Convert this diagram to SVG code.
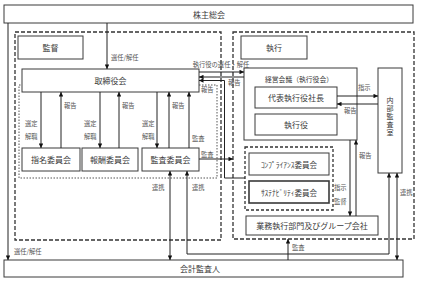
<svg xmlns="http://www.w3.org/2000/svg" width="421" height="281" viewBox="0 0 421 281">
<style>
.box{fill:#fff;stroke:#3a3a3a;stroke-width:1}
.area{fill:none;stroke:#333;stroke-width:1.3;stroke-dasharray:4 2}
.dotted{fill:none;stroke:#555;stroke-width:1;stroke-dasharray:1.5 1.5}
.grp{fill:none;stroke:#333;stroke-width:1.3;stroke-dasharray:3 2}
.t{font-family:"Noto Sans CJK JP","Noto Sans",sans-serif;font-size:8px;fill:#3a3a3a;text-anchor:middle;dominant-baseline:central}
.v{font-family:"Noto Sans CJK JP","Noto Sans",sans-serif;font-size:7px;fill:#3a3a3a;text-anchor:middle;writing-mode:vertical-rl;letter-spacing:1px}
.l{font-family:"Noto Sans CJK JP","Noto Sans",sans-serif;font-size:6.3px;fill:#555;dominant-baseline:central}
.m{text-anchor:middle}
.c{fill:none;stroke:#222;stroke-width:1}
</style>
<defs>
<marker id="ah" viewBox="0 0 6 6" refX="6" refY="3" markerWidth="5" markerHeight="4.5" markerUnits="userSpaceOnUse" orient="auto-start-reverse">
<path d="M0,0 L6,3 L0,6 z" fill="#111"/>
</marker>
</defs>

<g id="supervision-area"><rect class="area" x="15" y="32" width="206" height="208"/></g>
<g id="execution-area"><rect class="area" x="233" y="32" width="181" height="207"/></g>
<g id="committee-area"><rect class="dotted" x="19" y="85" width="198" height="93"/></g>

<g id="shareholders"><rect class="box" x="4" y="5" width="409" height="18"/><text class="t" x="209" y="14">株主総会</text></g>
<g id="kantoku"><rect class="box" x="18" y="36" width="65" height="23"/><text class="t" x="50.5" y="47.5">監督</text></g>
<g id="shikkou"><rect class="box" x="241" y="36" width="66" height="23"/><text class="t" x="274" y="47.5">執行</text></g>
<g id="board"><rect class="box" x="22" y="69" width="177" height="23"/><text class="t" x="110.5" y="80.5">取締役会</text></g>
<g id="nominating"><rect class="box" x="22" y="148" width="58" height="23"/><text class="t" x="51" y="159.5">指名委員会</text></g>
<g id="compensation"><rect class="box" x="82" y="148" width="56" height="23"/><text class="t" x="110" y="159.5">報酬委員会</text></g>
<g id="audit-committee"><rect class="box" x="142" y="148" width="57" height="23"/><text class="t" x="170.5" y="159.5">監査委員会</text></g>
<g id="management-meeting"><rect class="box" x="244" y="68" width="113" height="72"/><text class="t" x="299" y="79" style="font-size:6.8px">経営会議（執行役会）</text></g>
<g id="ceo"><rect class="box" x="255" y="87" width="82" height="21"/><text class="t" x="296" y="97.5">代表執行役社長</text></g>
<g id="officers"><rect class="box" x="255" y="114" width="82" height="21"/><text class="t" x="296" y="124.5">執行役</text></g>
<g id="internal-audit"><rect class="box" x="378" y="68" width="24" height="105"/><text class="v" x="390" y="117">内部監査室</text></g>
<g id="committees-group"><rect class="grp" x="245" y="147" width="88" height="63"/></g>
<g id="compliance"><rect class="box" x="249" y="153" width="80" height="22"/><text class="t" x="289" y="164" style="font-size:7.5px">ｺﾝﾌﾟﾗｲｱﾝｽ委員会</text></g>
<g id="sustainability"><rect class="box" x="249" y="181" width="80" height="22" style="stroke-width:1.6"/><text class="t" x="289" y="192" style="font-size:7.5px">ｻｽﾃﾅﾋﾞﾘﾃｨ委員会</text></g>
<g id="business"><rect class="box" x="246" y="216" width="132" height="19"/><text class="t" x="312" y="225.5">業務執行部門及びグループ会社</text></g>
<g id="auditor"><rect class="box" x="4" y="260" width="399" height="17"/><text class="t" x="200" y="268.5">会計監査人</text></g>

<g id="connectors">
<line class="c" x1="107" y1="23" x2="107" y2="69" marker-end="url(#ah)"/>
<line class="c" x1="8" y1="23" x2="8" y2="260" marker-end="url(#ah)"/>
<line class="c" x1="41" y1="92" x2="41" y2="148" marker-end="url(#ah)"/>
<line class="c" x1="61" y1="148" x2="61" y2="92" marker-end="url(#ah)"/>
<line class="c" x1="100" y1="92" x2="100" y2="148" marker-end="url(#ah)"/>
<line class="c" x1="119" y1="148" x2="119" y2="92" marker-end="url(#ah)"/>
<line class="c" x1="157" y1="92" x2="157" y2="148" marker-end="url(#ah)"/>
<line class="c" x1="169" y1="148" x2="169" y2="92" marker-end="url(#ah)"/>
<line class="c" x1="189" y1="148" x2="189" y2="92" marker-end="url(#ah)"/>
<line class="c" x1="199" y1="72" x2="244" y2="72" marker-end="url(#ah)"/>
<line class="c" x1="244" y1="77" x2="199" y2="77" marker-end="url(#ah)"/>
<polyline class="c" points="245,178 224.5,178 224.5,80.5 199,80.5" marker-end="url(#ah)"/>
<line class="c" x1="199" y1="159" x2="233" y2="159" marker-end="url(#ah)"/>
<line class="c" x1="337" y1="96" x2="378" y2="96" marker-end="url(#ah)"/>
<line class="c" x1="378" y1="104" x2="337" y2="104" marker-end="url(#ah)"/>
<line class="c" x1="350" y1="140" x2="350" y2="216" marker-end="url(#ah)"/>
<line class="c" x1="356" y1="216" x2="356" y2="140" marker-end="url(#ah)"/>
<line class="c" x1="170" y1="171" x2="170" y2="260" marker-start="url(#ah)" marker-end="url(#ah)"/>
<polyline class="c" points="187,171 187,254 389,254 389,173" marker-start="url(#ah)" marker-end="url(#ah)"/>
<line class="c" x1="288" y1="260" x2="288" y2="239" marker-end="url(#ah)"/>
<line class="c" x1="397" y1="173" x2="397" y2="260" marker-start="url(#ah)" marker-end="url(#ah)"/>

<text class="l" x="111" y="57">選任/解任</text>
<text class="l" x="14" y="251">選任/解任</text>
<text class="l" x="25" y="123">選定</text>
<text class="l" x="25" y="136">解職</text>
<text class="l" x="64" y="105">報告</text>
<text class="l" x="84" y="123">選定</text>
<text class="l" x="84" y="136">解職</text>
<text class="l" x="122" y="105">報告</text>
<text class="l" x="142" y="123">選定</text>
<text class="l" x="142" y="136">解職</text>
<text class="l" x="172" y="105">報告</text>
<text class="l" x="192" y="138">監査</text>
<text class="l m" x="221" y="64">執行役の選任・解任</text>
<text class="l" x="228" y="82.5">報告</text>
<text class="l" x="201" y="89">報告</text>
<text class="l" x="201" y="154">監査</text>
<text class="l" x="358" y="87">指示</text>
<text class="l" x="344" y="110">報告</text>
<text class="l" x="334" y="187">指示</text>
<text class="l" x="334" y="201">監督</text>
<text class="l" x="359" y="155">報告</text>
<text class="l" x="152" y="187">連携</text>
<text class="l" x="192" y="187">連携</text>
<text class="l" x="292" y="247">監査</text>
<text class="l" x="400" y="192">連携</text>
</g>
</svg>
